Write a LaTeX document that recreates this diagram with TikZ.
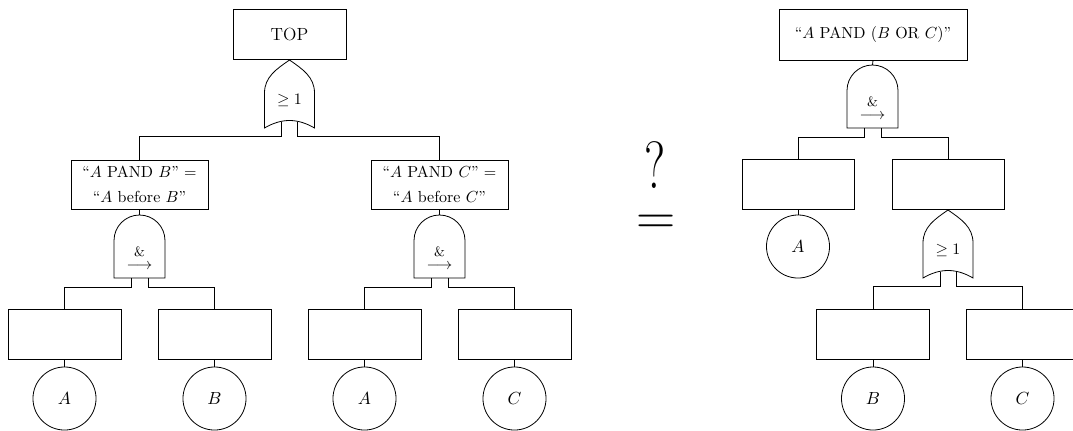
\documentclass[tikz,border=0pt]{standalone}
\usepackage{graphicx}
\tikzset{
  every picture/.style={line width=0.5pt},
  tbox/.style={draw, minimum width=70.6pt, minimum height=31.25pt, inner sep=0pt, font=\fontsize{11}{13}\selectfont},
  labbox/.style={draw, minimum width=85.6pt, minimum height=30.6pt, inner sep=0pt, align=center, font=\fontsize{10}{15.6}\selectfont},
  event/.style={draw, circle, minimum size=39.4pt, inner sep=0pt, font=\fontsize{11}{13}\selectfont},
  glabel/.style={inner sep=0pt, font=\normalsize},
  orgate/.pic={
    \draw (0,0) .. controls (-13,9) and (-25,17) .. (-25,33) -- (-25,68)
          .. controls (-8,58) and (8,58) .. (25,68) -- (25,33)
          .. controls (25,17) and (13,9) .. (0,0) -- cycle;
    \coordinate (-top) at (0,0);
    \coordinate (-l) at (-8,61.5);
    \coordinate (-r) at (8,61.5);
    \coordinate (-lo) at (-8,76.5);
    \coordinate (-ro) at (8,76.5);
    \node[glabel] (-lab) at (0,40) {$\geq 1$};
  },
  pandgate/.pic={
    \draw (-25.5,63) -- (-25.5,25.5)
          .. controls (-25.5,11.42) and (-14.08,0) .. (0,0)
          .. controls (14.08,0) and (25.5,11.42) .. (25.5,25.5)
          -- (25.5,63) -- cycle;
    \coordinate (-top) at (0,0);
    \coordinate (-l) at (-8.5,63);
    \coordinate (-r) at (8.5,63);
    \coordinate (-lo) at (-8.5,72);
    \coordinate (-ro) at (8.5,72);
    \node[glabel, align=center, font=\fontsize{10}{8.1}\selectfont] (-lab) at (0,42.8)
      {{\fontsize{8.5}{8.1}\selectfont\&}\\$\longrightarrow$};
  }
}
\begin{document}
\begin{tikzpicture}[x=0.625pt,y=-0.625pt]
\useasboundingbox (0,0) rectangle (1073,430);
% ---------- left tree ----------
\node[tbox] (top) at (289.5,34) {TOP};
\pic (g0) at (289.5,60) {orgate};
\node[labbox] (ab) at (139.5,184.5) {“$A$ PAND $B$” =\\“$A$ before $B$”};
\node[labbox] (ac) at (439.5,184.5) {“$A$ PAND $C$” =\\“$A$ before $C$”};
\pic (p1) at (139.5,215) {pandgate};
\pic (p2) at (439.5,215) {pandgate};
\node[tbox] (e1) at (64.5,334) {};
\node[tbox] (e2) at (214.5,334) {};
\node[tbox] (e3) at (364.5,334) {};
\node[tbox] (e4) at (514.5,334) {};
\node[event] (c1) at (64.5,398.5) {$A$};
\node[event] (c2) at (214.5,398.5) {$B$};
\node[event] (c3) at (364.5,398.5) {$A$};
\node[event] (c4) at (514.5,398.5) {$C$};
\draw (g0-l) -- (g0-lo) -| (ab.north);
\draw (g0-r) -- (g0-ro) -| (ac.north);
\draw (ab.south) -- (p1-top);
\draw (ac.south) -- (p2-top);
\draw (p1-l) -- (p1-lo) -| (e1.north);
\draw (p1-r) -- (p1-ro) -| (e2.north);
\draw (p2-l) -- (p2-lo) -| (e3.north);
\draw (p2-r) -- (p2-ro) -| (e4.north);
\draw (e1.south) -- (c1.north);
\draw (e2.south) -- (c2.north);
\draw (e3.south) -- (c3.north);
\draw (e4.south) -- (c4.north);
% ---------- question ----------
\node[inner sep=0pt] (q) at (655,165) {\scalebox{0.8}[1.1]{\fontsize{38}{40}\selectfont ?}};
\node[inner sep=0pt] (eq) at (656,225) {\fontsize{34}{40}\selectfont =};
% ---------- right tree ----------
\node[tbox, minimum width=117.5pt, minimum height=31.9pt, font=\fontsize{10}{12}\selectfont] (rt) at (873,34.5) {“$A$ PAND ($B$ OR $C$)”};
\pic (p3) at (872.5,65) {pandgate};
\node[tbox, minimum width=70pt] (ra) at (798,184) {};
\node[tbox, minimum width=70pt] (rbc) at (948.5,184) {};
\node[event] (c5) at (798,246.5) {$A$};
\pic (g1) at (948,210) {orgate};
\node[tbox] (e5) at (873,334) {};
\node[tbox] (e6) at (1022.5,334) {};
\node[event] (c6) at (873,398.5) {$B$};
\node[event] (c7) at (1022.5,398.5) {$C$};
\draw (rt.south) -- (p3-top);
\draw (p3-l) -- (p3-lo) -| (ra.north);
\draw (p3-r) -- (p3-ro) -| (rbc.north);
\draw (ra.south) -- (c5.north);
\draw (rbc.south) -- (g1-top);
\draw (g1-l) -- (g1-lo) -| (e5.north);
\draw (g1-r) -- (g1-ro) -| (e6.north);
\draw (e5.south) -- (c6.north);
\draw (e6.south) -- (c7.north);
\end{tikzpicture}
\end{document}
